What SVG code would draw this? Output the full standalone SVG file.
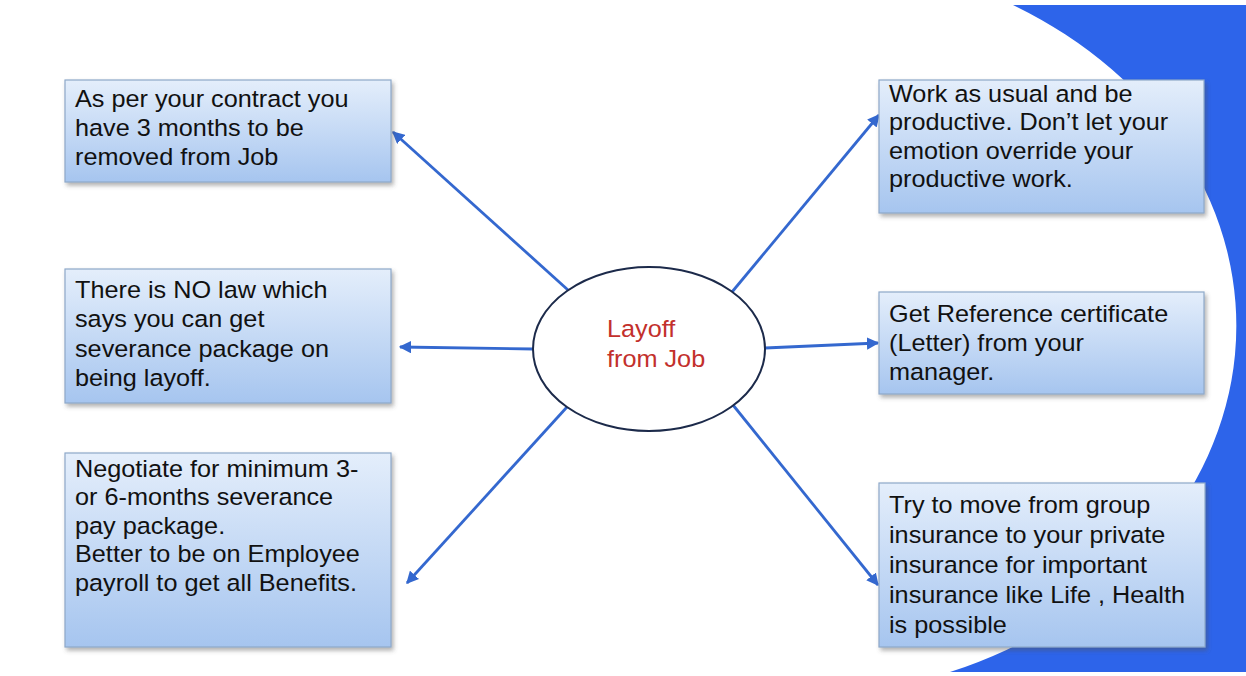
<svg xmlns="http://www.w3.org/2000/svg" width="1246" height="676" viewBox="0 0 1246 676">
<style>
.box{fill:url(#boxGrad);stroke:#8ea8c9;stroke-width:1.2;filter:url(#shadow)}
.txt{font-family:"Liberation Sans",Arial,sans-serif;font-size:23.5px;fill:#111}
.ctr{font-family:"Liberation Sans",Arial,sans-serif;font-size:23.5px;fill:#c3302c}
.conn{stroke:#3468cf;stroke-width:2.8;fill:none;marker-end:url(#arrow)}
</style>
<defs>
<linearGradient id="boxGrad" x1="0" y1="0" x2="0" y2="1">
<stop offset="0" stop-color="#e4eefb"/>
<stop offset="1" stop-color="#a6c5ef"/>
</linearGradient>
<filter id="shadow" x="-10%" y="-10%" width="125%" height="130%">
<feDropShadow dx="2" dy="3" stdDeviation="2" flood-color="#555" flood-opacity="0.45"/>
</filter>
<marker id="arrow" viewBox="0 0 10 10" refX="9" refY="5" markerWidth="4.4" markerHeight="4.4" orient="auto" markerUnits="strokeWidth">
<path d="M0,0 L10,5 L0,10 z" fill="#3468cf"/>
</marker>
</defs>
<rect width="1246" height="676" fill="#ffffff"/>
<path id="bg-arc" d="M1013,5 H1246 V672 H950 A452,372 0 0 0 1013,5 Z" fill="#2d64ea"/>
<g id="connectors">
<line class="conn" x1="568" y1="290" x2="393" y2="132"/>
<line class="conn" x1="533" y1="349" x2="400" y2="347"/>
<line class="conn" x1="567" y1="407" x2="407" y2="583"/>
<line class="conn" x1="732" y1="292" x2="879" y2="115"/>
<line class="conn" x1="765" y1="348" x2="878" y2="343"/>
<line class="conn" x1="733" y1="405" x2="878" y2="585"/>
</g>
<g id="center">
<ellipse cx="649" cy="349" rx="116" ry="82" fill="#ffffff" stroke="#1c2a4a" stroke-width="2"/>
<text class="ctr" transform="translate(607,0) scale(1.075,1)"><tspan x="0" y="337">Layoff</tspan><tspan x="0" y="367">from Job</tspan></text>
</g>
<g id="node-contract">
<rect class="box" x="65" y="80" width="326" height="102"/>
<text class="txt" transform="translate(75,0) scale(1.075,1)"><tspan x="0" y="107">As per your contract you</tspan><tspan x="0" y="136">have 3 months to be</tspan><tspan x="0" y="165">removed from Job</tspan></text>
</g>
<g id="node-law">
<rect class="box" x="65" y="269" width="326" height="134"/>
<text class="txt" transform="translate(75,0) scale(1.075,1)"><tspan x="0" y="298">There is NO law which</tspan><tspan x="0" y="327.5">says you can get</tspan><tspan x="0" y="357">severance package on</tspan><tspan x="0" y="386.5">being layoff.</tspan></text>
</g>
<g id="node-negotiate">
<rect class="box" x="65" y="453" width="326" height="194"/>
<text class="txt" transform="translate(75,0) scale(1.075,1)"><tspan x="0" y="477">Negotiate for minimum 3-</tspan><tspan x="0" y="505.5">or 6-months severance</tspan><tspan x="0" y="534">pay package.</tspan><tspan x="0" y="562.5">Better to be on Employee</tspan><tspan x="0" y="591">payroll to get all Benefits.</tspan></text>
</g>
<g id="node-work">
<rect class="box" x="879" y="80" width="325" height="133"/>
<text class="txt" transform="translate(889,0) scale(1.075,1)"><tspan x="0" y="102">Work as usual and be</tspan><tspan x="0" y="130.5">productive. Don’t let your</tspan><tspan x="0" y="159">emotion override your</tspan><tspan x="0" y="187.5">productive work.</tspan></text>
</g>
<g id="node-reference">
<rect class="box" x="879" y="292" width="325" height="102"/>
<text class="txt" transform="translate(889,0) scale(1.075,1)"><tspan x="0" y="322">Get Reference certificate</tspan><tspan x="0" y="351">(Letter) from your</tspan><tspan x="0" y="380">manager.</tspan></text>
</g>
<g id="node-insurance">
<rect class="box" x="879" y="483" width="326" height="164"/>
<text class="txt" transform="translate(889,0) scale(1.075,1)"><tspan x="0" y="513">Try to move from group</tspan><tspan x="0" y="543">insurance to your private</tspan><tspan x="0" y="573">insurance for important</tspan><tspan x="0" y="603">insurance like Life , Health</tspan><tspan x="0" y="633">is possible</tspan></text>
</g>
</svg>
